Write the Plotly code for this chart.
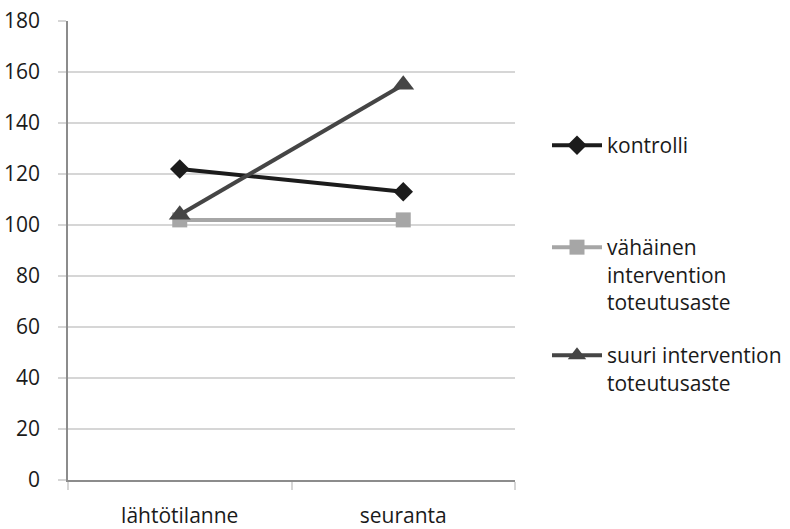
import plotly.graph_objects as go

categories = ["lähtötilanne", "seuranta"]
kontrolli = [122, 113]
vahainen = [102, 102]
suuri = [104, 155]
series_names = ["kontrolli", "vähäinen<br>intervention<br>toteutusaste", "suuri intervention<br>toteutusaste"]
y_ticks = [0, 20, 40, 60, 80, 100, 120, 140, 160, 180]

FONT = "Open Sans"
FS = 21
fig = go.Figure()
fig.add_trace(go.Scatter(x=categories, y=kontrolli, name=series_names[0], mode="lines+markers",
                         line=dict(color="#1c1c1c", width=4),
                         marker=dict(symbol="diamond", size=15, color="#1c1c1c"), legend="legend"))
fig.add_trace(go.Scatter(x=categories, y=vahainen, name=series_names[1], mode="lines+markers",
                         line=dict(color="#a6a6a6", width=4),
                         marker=dict(symbol="square", size=15, color="#a6a6a6"), legend="legend2"))
fig.add_trace(go.Scatter(x=categories, y=suuri, name=series_names[2], mode="lines+markers",
                         line=dict(color="#454545", width=4),
                         marker=dict(symbol="triangle-up", size=19, color="#454545"), legend="legend3"))

leg = dict(xref="container", yref="container", xanchor="left", yanchor="top",
           font=dict(family=FONT, size=FS, color="#1a1a1a"), valign="top",
           bgcolor="rgba(0,0,0,0)", tracegroupgap=0, itemwidth=50)
fig.update_layout(
    width=790, height=529,
    margin=dict(l=68, r=275, t=21, b=49),
    paper_bgcolor="white", plot_bgcolor="white",
    font=dict(family=FONT, size=FS, color="#1a1a1a"),
    showlegend=True,
    legend=dict(leg, x=547/790, y=1 - 125/529),
    legend2=dict(leg, x=547/790, y=1 - 227/529),
    legend3=dict(leg, x=547/790, y=1 - 335/529),
    xaxis=dict(type="category", range=[-0.5, 1.5], showgrid=False, automargin=False,
               showline=True, linecolor="#8c8c8c", linewidth=1.5,
               ticks="outside", ticklen=8, tickcolor="#d6d6d6", tickwidth=1.5,
               tickson="boundaries", tickfont=dict(family=FONT, size=FS, color="#1a1a1a"),
               ticklabelstandoff=16),
    yaxis=dict(range=[0, 180], tickvals=y_ticks, showgrid=True, gridcolor="#d6d6d6", gridwidth=1.5,
               showline=True, linecolor="#8c8c8c", linewidth=1.5, zeroline=False, automargin=False,
               ticks="outside", ticklen=8, tickcolor="#d6d6d6", tickwidth=1.5,
               tickfont=dict(family=FONT, size=FS, color="#1a1a1a"), ticklabelstandoff=14),
)
fig.write_html("out.html", config={"displayModeBar": False},
               post_script="document.body.style.margin='0';document.body.style.padding='0';")
